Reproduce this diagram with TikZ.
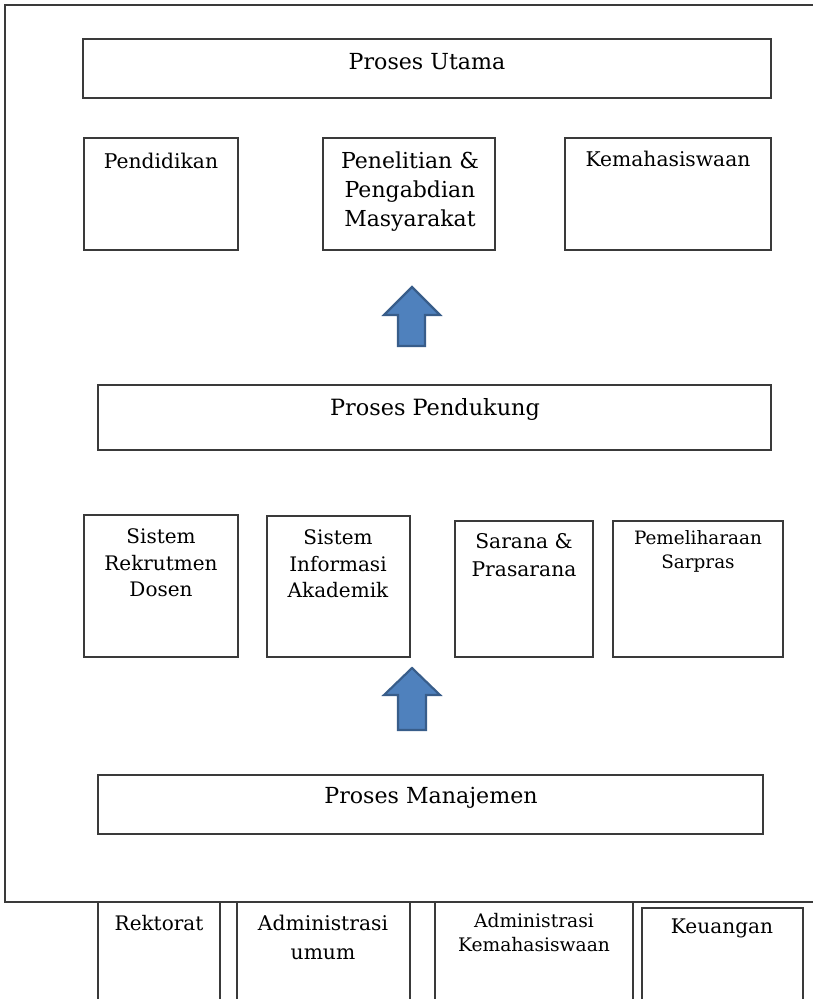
\documentclass[tikz,border=0pt]{standalone}
\usepackage{fontspec}
\setmainfont{DejaVu Serif}
\usetikzlibrary{fit}
\definecolor{edgegray}{HTML}{3A3A3A}
\definecolor{arrowfill}{HTML}{4F81BD}
\definecolor{arrowedge}{HTML}{385D8A}
\begin{document}
\begin{tikzpicture}[x=0.75pt,y=-0.75pt,
  box/.style={draw=edgegray, line width=1.1pt, inner sep=0pt},
  lbl/.style={inner sep=0pt, align=center, text=black},
  blockarrow/.style={fill=arrowfill, draw=arrowedge, line width=1.6pt, line join=miter}]
\useasboundingbox (0,0) rectangle (813,999);
\fill[white] (0,0) rectangle (813,999);

% outer frame, open on the right
\draw[edgegray, line width=1.1pt] (813,5) -- (5,5) -- (5,902) -- (813,902);

% main processes
\node (utama) [box, fit={(83,39) (771,98)}] {};
\node (tutama) [lbl, font=\fontsize{16.6}{19}\selectfont] at (427,62) {Proses Utama};
\node (pend) [box, fit={(84,138) (238,250)}] {};
\node (tpend) [lbl, font=\fontsize{15.2}{17}\selectfont] at (161,161) {Pendidikan};
\node (penel) [box, fit={(323,138) (495,250)}] {};
\node (tpenel) [lbl, font=\fontsize{16.5}{21.75}\selectfont] at (410,192) {Penelitian \&\\Pengabdian\\Masyarakat};
\node (kema) [box, fit={(565,138) (771,250)}] {};
\node (tkema) [lbl, font=\fontsize{15.2}{17}\selectfont] at (668,159) {Kemahasiswaan};

% supporting processes
\node (dukung) [box, fit={(98,385) (771,450)}] {};
\node (tdukung) [lbl, font=\fontsize{16.8}{19}\selectfont] at (435,409) {Proses Pendukung};
\node (rekrut) [box, fit={(84,515) (238,657)}] {};
\node (trekrut) [lbl, font=\fontsize{15}{20}\selectfont] at (161,563) {Sistem\\Rekrutmen\\Dosen};
\node (sia) [box, fit={(267,516) (410,657)}] {};
\node (tsia) [lbl, font=\fontsize{15}{20}\selectfont] at (338,564) {Sistem\\Informasi\\Akademik};
\node (sarana) [box, fit={(455,521) (593,657)}] {};
\node (tsarana) [lbl, font=\fontsize{15.2}{21}\selectfont] at (524,555) {Sarana \&\\Prasarana};
\node (pelihara) [box, fit={(613,521) (783,657)}] {};
\node (tpelihara) [lbl, font=\fontsize{13.8}{18}\selectfont] at (698,551) {Pemeliharaan\\Sarpras};

% management processes
\node (manaj) [box, fit={(98,775) (763,834)}] {};
\node (tmanaj) [lbl, font=\fontsize{16.6}{19}\selectfont] at (431,798) {Proses Manajemen};

% units below the frame, cut off at the bottom edge
\draw[edgegray, line width=1.1pt] (98,999) -- (98,902) -- (220,902) -- (220,999);
\draw[edgegray, line width=1.1pt] (237,999) -- (237,902) -- (410,902) -- (410,999);
\draw[edgegray, line width=1.1pt] (435,999) -- (435,902) -- (633,902) -- (633,999);
\draw[edgegray, line width=1.1pt] (642,999) -- (642,908) -- (803,908) -- (803,999);
\node (trekt) [lbl, font=\fontsize{15}{17}\selectfont] at (159,923) {Rektorat};
\node (tadm) [lbl, font=\fontsize{15.2}{21.75}\selectfont] at (323,937) {Administrasi\\umum};
\node (tadmk) [lbl, font=\fontsize{14}{18}\selectfont] at (534,933) {Administrasi\\Kemahasiswaan};
\node (tkeu) [lbl, font=\fontsize{15.1}{17}\selectfont] at (722,928) {Keuangan};

% block arrows pointing upward
\draw[blockarrow] (412,287) -- (440,315) -- (425,315) -- (425,346) -- (398,346) -- (398,315) -- (384,315) -- cycle;
\draw[blockarrow] (412,668) -- (440,695) -- (426,695) -- (426,730) -- (398,730) -- (398,695) -- (384,695) -- cycle;
\end{tikzpicture}
\end{document}
